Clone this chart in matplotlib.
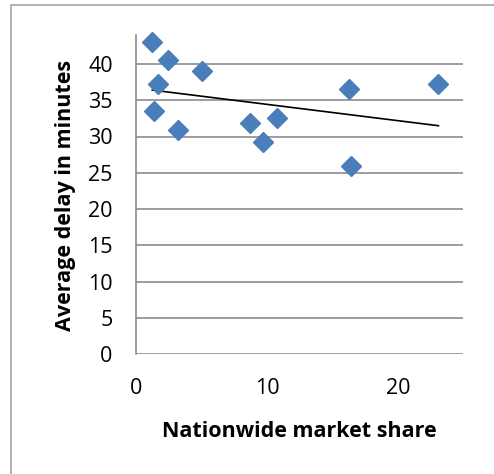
import numpy as np
import matplotlib
matplotlib.use("Agg")
import matplotlib.pyplot as plt
from matplotlib.patches import Rectangle

market_share = [1.22, 2.44, 1.68, 5.04, 1.35, 3.18, 8.73, 9.70, 10.74, 16.26, 16.39, 23.10]
avg_delay = [43.0, 40.5, 37.3, 39.0, 33.5, 30.9, 31.9, 29.3, 32.5, 36.6, 25.9, 37.3]
x_ticks = [0, 10, 20]
y_ticks = [0, 5, 10, 15, 20, 25, 30, 35, 40]

plt.rcParams['font.family'] = ['Open Sans', 'DejaVu Sans']

fig = plt.figure(figsize=(4.94, 4.74), dpi=100)
fig.patches.append(Rectangle((10.5 / 494, -0.1), 1.2, 1.1 - 5 / 474, transform=fig.transFigure,
                             fill=False, edgecolor='#a6a6a6', linewidth=1.2))

ax = fig.add_axes([136.3 / 494, (474 - 354) / 474, 327 / 494, 319 / 474])
ax.set_xlim(0, 25)
ax.set_ylim(0, 44)
ax.set_xticks(x_ticks)
ax.set_yticks(y_ticks)
ax.yaxis.grid(True, color='#8c8c8c', linewidth=1.2)
ax.set_axisbelow(True)
for s in ['top', 'right', 'bottom']:
    ax.spines[s].set_visible(False)
ax.spines['left'].set_color('#8c8c8c')
ax.spines['left'].set_linewidth(1.2)
ax.tick_params(length=0, labelsize=15.5)
ax.tick_params(axis='y', pad=17)
ax.tick_params(axis='x', pad=17)

xs = np.array(market_share)
ys = np.array(avg_delay)
m, b = np.polyfit(xs, ys, 1)
xl = np.array([xs.min(), xs.max()])
ax.plot(xl, m * xl + b, color='black', linewidth=1.2, zorder=2)
ax.plot(xs, ys, linestyle='none', marker='D', markersize=10, color='#4a7ebb',
        markeredgecolor='#4a7ebb', zorder=3, clip_on=False)

ax.set_xlabel('Nationwide market share', fontsize=15.5, fontweight='bold')
ax.set_ylabel('Average delay in minutes', fontsize=15.5, fontweight='bold')
ax.xaxis.set_label_coords(0.5, -(421 - 354) / 319)
ax.yaxis.set_label_coords((76 - 136.3) / 327, 0.498)

fig.savefig('out.png', dpi=100)
